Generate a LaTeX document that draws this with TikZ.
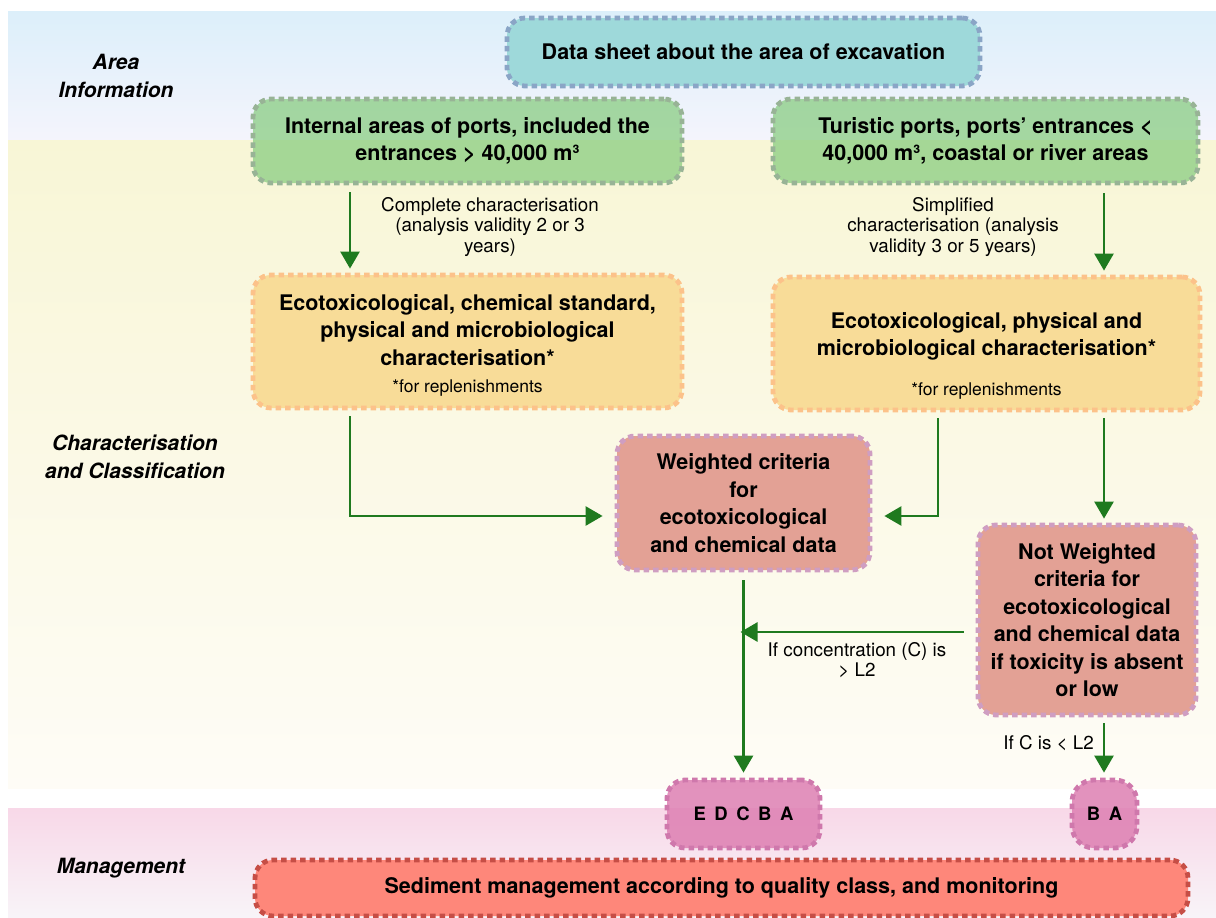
\documentclass[tikz,border=0pt]{standalone}
\usepackage{fontspec}
\setmainfont{TeX Gyre Heros}
\usetikzlibrary{arrows.meta,calc}
\definecolor{bandblueA}{HTML}{DCEFFA}
\definecolor{bandblueB}{HTML}{F4F4FC}
\definecolor{bandyelA}{HTML}{F8F6D6}
\definecolor{bandyelB}{HTML}{FEFCF6}
\definecolor{bandpinkA}{HTML}{F8D8E8}
\definecolor{bandpinkB}{HTML}{F8F4F8}
\definecolor{datafill}{HTML}{9ED9DA}
\definecolor{databorder}{HTML}{8AA5C6}
\definecolor{greenfill}{HTML}{86CC7E}
\definecolor{greenborder}{HTML}{98B396}
\definecolor{ecofill}{HTML}{F8DC98}
\definecolor{ecoborder}{HTML}{FCC28A}
\definecolor{critfill}{HTML}{E3A195}
\definecolor{critborder}{HTML}{CF9EC2}
\definecolor{classfill}{HTML}{DE7FB2}
\definecolor{classborder}{HTML}{CF78AC}
\definecolor{sedfill}{HTML}{FE877A}
\definecolor{sedborder}{HTML}{C64E46}
\definecolor{arrowgreen}{HTML}{1F7A1F}
\begin{document}
\begin{tikzpicture}[x=1pt,y=-1pt,
  box/.style={rounded corners=18pt, line width=4.8pt, dash pattern=on 5.5pt off 4pt,
    align=center, inner sep=0pt, text=black,
    font=\bfseries\fontsize{21.5}{27.5}\selectfont},
  greenbox/.style={box, fill=greenfill, fill opacity=0.72, text opacity=1, draw=greenborder},
  ecobox/.style={box, fill=ecofill, draw=ecoborder},
  critbox/.style={box, fill=critfill, draw=critborder},
  classbox/.style={box, fill=classfill, fill opacity=0.85, text opacity=1, draw=classborder,
    font=\bfseries\fontsize{18.5}{22}\selectfont},
  lbl/.style={align=center, inner sep=0pt, font=\fontsize{18.8}{20.5}\selectfont},
  side/.style={align=center, inner sep=0pt, font=\bfseries\itshape\fontsize{21}{28}\selectfont},
  arr/.style={draw=arrowgreen, line width=2.6pt, -{Triangle[length=17pt,width=19pt]}}
]
\useasboundingbox (0,0) rectangle (1216,918);
\fill[white] (0,0) rectangle (1216,918);
% bands
\shade[top color=bandblueA, bottom color=bandblueB] (8,11) rectangle (1216,140);
\shade[top color=bandyelA, bottom color=bandyelB] (8,140) rectangle (1216,788);
\shade[top color=bandpinkA, bottom color=bandpinkB] (8,808) rectangle (1216,918);

% side labels
\node[side] (s1) at (116,76) {Area\\Information};
\node[side] (s2) at (135,457) {Characterisation\\and Classification};
\node[side] (s3) at (121,868) {Management};

% nodes
\node[box, fill=datafill, draw=databorder, minimum width=473pt, minimum height=68pt] (data) at (743.5,52) {Data sheet about the area of excavation};
\node[greenbox, minimum width=429pt, minimum height=84pt] (int) at (467.5,141) {Internal areas of ports, included the\\entrances > 40,000 m³};
\node[greenbox, minimum width=425pt, minimum height=84pt] (tur) at (985.5,141) {Turistic ports, ports’ entrances <\\40,000 m³, coastal or river areas};
\node[ecobox, minimum width=429pt, minimum height=133pt] (ecoL) at (467.5,341.5) {\rule{0pt}{24pt}Ecotoxicological, chemical standard,\\physical and microbiological\\characterisation*\\[0pt]{\mdseries\fontsize{17.5}{20}\selectfont *for replenishments}};
\node[ecobox, minimum width=427pt, minimum height=133pt] (ecoR) at (986.5,343.5) {\rule{0pt}{40pt}Ecotoxicological, physical and\\microbiological characterisation*\\[12pt]{\mdseries\fontsize{17.5}{20}\selectfont *for replenishments}};
\node[critbox, minimum width=253pt, minimum height=134pt] (wt) at (743.5,503) {Weighted criteria\\for\\ecotoxicological\\and chemical data};
\node[critbox, minimum width=218pt, minimum height=190pt] (nw) at (1087,620) {Not Weighted\\criteria for\\ecotoxicological\\and chemical data\\if toxicity is absent\\or low};
\node[classbox, minimum width=153pt, minimum height=68pt] (ed) at (743.5,814) {E\hspace{8.5pt}D\hspace{8.5pt}C\hspace{8.5pt}B\hspace{8.5pt}A};
\node[classbox, minimum width=65pt, minimum height=68pt, rounded corners=22pt] (ba) at (1104.5,814) {B\hspace{8.5pt}A};
\node[box, fill=sedfill, draw=sedborder, minimum width=933pt, minimum height=56pt] (sed) at (721.5,888) {Sediment management according to quality class, and monitoring};

% edge labels
\node[lbl] (la) at (490,227) {Complete characterisation\\(analysis validity 2 or 3\\years)};
\node[lbl] (lb) at (953,227) {Simplified\\characterisation (analysis\\validity 3 or 5 years)};
\node[lbl] (lc) at (857,660) {If concentration (C) is\\> L2};
\node[lbl, anchor=east] (ld) at (1094,743) {If C is < L2};

% connectors
\coordinate (cL) at (350,0);
\coordinate (cR) at (1104,0);
\coordinate (cM) at (938,0);
\draw[arr, shorten <=7pt, shorten >=4pt] (int.south -| cL) -- (ecoL.north -| cL);
\draw[arr, shorten <=8pt, shorten >=4pt] (tur.south -| cR) -- (ecoR.north -| cR);
\draw[arr, shorten <=6pt, shorten >=12pt] (ecoL.south -| cL) |- ($(wt.west)+(0,13)$);
\draw[arr, shorten <=6pt, shorten >=12pt] (ecoR.south -| cM) |- ($(wt.east)+(0,13)$);
\draw[arr, shorten <=6pt, shorten >=4pt] (ecoR.south -| cR) -- (nw.north -| cR);
\draw[arr, shorten <=8pt, shorten >=5pt] (wt.south) -- (ed.north);
\coordinate (nwout) at ($(nw.west)+(0,12)$);
\draw[arr, shorten <=12pt, shorten >=-3pt] (nwout) -- (nwout -| wt.south);
\draw[arr, shorten <=6pt, shorten >=5pt] (nw.south -| cR) -- (ba.north -| cR);
\end{tikzpicture}
\end{document}
